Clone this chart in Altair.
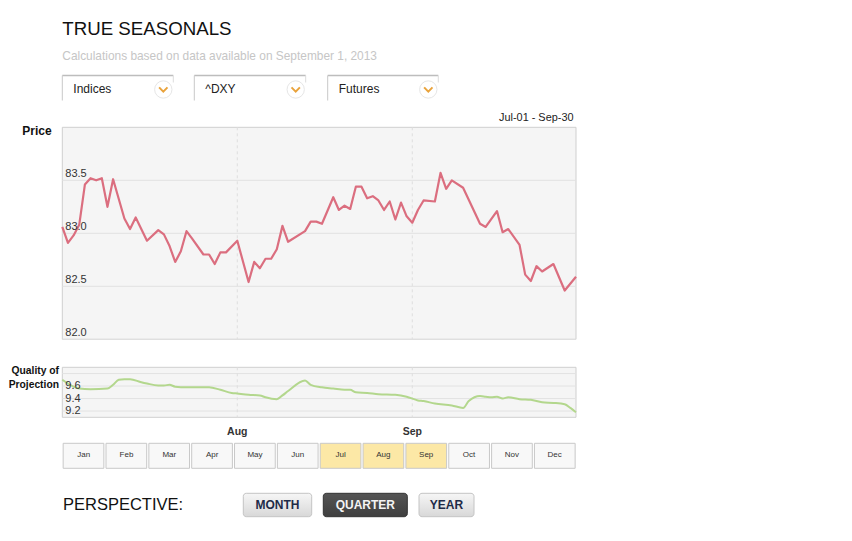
import altair as alt
import pandas as pd

FONT = "Liberation Sans, Arial, Helvetica, sans-serif"

# ---------------- data ----------------
TITLE = "TRUE SEASONALS"
SUBTITLE = "Calculations based on data available on September 1, 2013"
DROPDOWNS = ["Indices", "^DXY", "Futures"]
RANGE_LABEL = "Jul-01 - Sep-30"
START = "2013-07-01"
END = "2013-09-30"

price_dates = [
    "2013-07-01", "2013-07-02", "2013-07-03", "2013-07-04", "2013-07-05", "2013-07-06",
    "2013-07-07", "2013-07-08", "2013-07-09", "2013-07-10", "2013-07-12", "2013-07-13",
    "2013-07-14", "2013-07-16", "2013-07-18", "2013-07-19", "2013-07-20", "2013-07-21",
    "2013-07-22", "2013-07-23", "2013-07-24", "2013-07-26", "2013-07-27", "2013-07-28",
    "2013-07-29", "2013-07-30", "2013-08-01", "2013-08-03", "2013-08-04", "2013-08-05",
    "2013-08-06", "2013-08-07", "2013-08-08", "2013-08-09", "2013-08-10", "2013-08-13",
    "2013-08-14", "2013-08-15", "2013-08-16", "2013-08-18", "2013-08-19", "2013-08-20",
    "2013-08-21", "2013-08-22", "2013-08-23", "2013-08-24", "2013-08-25", "2013-08-26",
    "2013-08-27", "2013-08-28", "2013-08-29", "2013-08-30", "2013-08-31", "2013-09-01",
    "2013-09-02", "2013-09-03", "2013-09-05", "2013-09-06", "2013-09-07", "2013-09-08",
    "2013-09-10", "2013-09-13", "2013-09-14", "2013-09-16", "2013-09-17", "2013-09-18",
    "2013-09-20", "2013-09-21", "2013-09-22", "2013-09-23", "2013-09-24", "2013-09-26",
    "2013-09-28", "2013-09-30",
]
price_values = [
    83.06, 82.91, 82.98, 83.08, 83.46, 83.52,
    83.50, 83.52, 83.25, 83.51, 83.14, 83.04,
    83.15, 82.93, 83.03, 82.99, 82.88, 82.73,
    82.83, 83.02, 82.95, 82.80, 82.80, 82.71,
    82.82, 82.82, 82.93, 82.54, 82.73, 82.67,
    82.76, 82.76, 82.85, 83.07, 82.92, 83.02,
    83.11, 83.11, 83.09, 83.34, 83.22, 83.26,
    83.23, 83.44, 83.44, 83.33, 83.35, 83.31,
    83.22, 83.30, 83.13, 83.29, 83.16, 83.10,
    83.22, 83.31, 83.30, 83.57, 83.42, 83.50,
    83.43, 83.09, 83.06, 83.21, 83.01, 83.04,
    82.89, 82.61, 82.55, 82.69, 82.64, 82.71,
    82.46, 82.59,
]

quality_dates = [
    "2013-07-01", "2013-07-04", "2013-07-06", "2013-07-09", "2013-07-10", "2013-07-11",
    "2013-07-12", "2013-07-13", "2013-07-15", "2013-07-16", "2013-07-18", "2013-07-19",
    "2013-07-20", "2013-07-21", "2013-07-23", "2013-07-27", "2013-07-29", "2013-07-31",
    "2013-08-01", "2013-08-03", "2013-08-05", "2013-08-06", "2013-08-08", "2013-08-09",
    "2013-08-10", "2013-08-13", "2013-08-14", "2013-08-16", "2013-08-18", "2013-08-20",
    "2013-08-21", "2013-08-22", "2013-08-24", "2013-08-26", "2013-08-29", "2013-08-31",
    "2013-09-02", "2013-09-03", "2013-09-05", "2013-09-08", "2013-09-10", "2013-09-11",
    "2013-09-13", "2013-09-14", "2013-09-15", "2013-09-16", "2013-09-17", "2013-09-18",
    "2013-09-20", "2013-09-22", "2013-09-24", "2013-09-26", "2013-09-28", "2013-09-29",
    "2013-09-30",
]
quality_values = [
    9.70, 9.56, 9.55, 9.56, 9.62, 9.70,
    9.71, 9.71, 9.66, 9.64, 9.61, 9.61,
    9.62, 9.59, 9.58, 9.58, 9.54, 9.49,
    9.48, 9.46, 9.45, 9.42, 9.39, 9.45,
    9.52, 9.69, 9.62, 9.58, 9.56, 9.54,
    9.54, 9.50, 9.49, 9.47, 9.46, 9.43,
    9.37, 9.36, 9.32, 9.29, 9.25, 9.36,
    9.44, 9.43, 9.42, 9.43, 9.40, 9.42,
    9.39, 9.38, 9.34, 9.33, 9.31, 9.25,
    9.18,
]

price_ticks = [82.0, 82.5, 83.0, 83.5]
quality_grid = [9.2, 9.4, 9.6, 9.8]
quality_ticks = [9.2, 9.4, 9.6]
month_starts = ["2013-08-01", "2013-09-01"]
month_start_labels = ["Aug", "Sep"]

MONTHS = ["Jan", "Feb", "Mar", "Apr", "May", "Jun", "Jul", "Aug", "Sep", "Oct", "Nov", "Dec"]
SELECTED_MONTHS = ["Jul", "Aug", "Sep"]
PERSPECTIVE = "PERSPECTIVE:"
BUTTONS = ["MONTH", "QUARTER", "YEAR"]
SELECTED_BUTTON = "QUARTER"

# ---------------- layout (pixels inside the view) ----------------
W, H = 836, 525
PL, PR = 54.3, 568.0          # plot left / right
P_TOP, P_BOT = 119.3, 331.3   # price panel
Q_TOP, Q_BOT = 359.3, 409.3   # quality panel
NAV_TOP, NAV_BOT = 435.3, 460.3
DD_LEFT = [54.3, 186.3, 319.7]
DD_RIGHT = [165.3, 297.7, 430.3]
DD_TOP, DD_BOT = 67.5, 92.5
BTN_LEFT = [235.3, 315.3, 411.0]
BTN_RIGHT = [303.7, 399.3, 466.0]
BTN_TOP, BTN_BOT = 485.3, 508.7

PRICE_COLOR = "#db6e7f"
QUAL_COLOR = "#b3d78d"
FRAME_FILL = "#f5f5f5"
FRAME_STROKE = "#cfcfcf"
GRID = "#e2e2e2"

start = pd.Timestamp(START)
ndays = (pd.Timestamp(END) - start).days


def day_index(dates):
    return [(pd.Timestamp(d) - start).days for d in dates]


X_DAY = alt.Scale(domain=[0, ndays], range=[PL, PR], nice=False, zero=False)
Y_PRICE = alt.Scale(domain=[82.0, 84.0], range=[P_BOT, P_TOP], nice=False, zero=False)
Y_QUAL = alt.Scale(domain=[9.1, 9.9], range=[Q_BOT, Q_TOP], nice=False, zero=False)


def one(**kw):
    return pd.DataFrame({k: [v] for k, v in kw.items()})


def text(s, x, y, size, color="#222", weight="normal", align="left", baseline="alphabetic"):
    return alt.Chart(one(t=s)).mark_text(
        align=align, baseline=baseline, fontSize=size, fontWeight=weight,
        color=color, font=FONT
    ).encode(x=alt.value(x), y=alt.value(y), text="t:N")


layers = []

# ---- header ----
layers.append(text(TITLE, 54.3, 27, 18.7, color="#111"))
layers.append(text(SUBTITLE, 54.3, 51.5, 11.9, color="#c6c6c6"))

# ---- dropdowns ----
dd = pd.DataFrame({"label": DROPDOWNS, "l": DD_LEFT, "r": DD_RIGHT})
dd["tx"] = dd["l"] + 11
dd["cx"] = dd["r"] - 10
XI = lambda f: alt.X(f, scale=None, axis=None)
layers.append(alt.Chart(dd).mark_rect(fill="white").encode(
    x=XI("l:Q"), x2="r:Q", y=alt.value(DD_TOP), y2=alt.value(DD_BOT)))
layers.append(alt.Chart(dd).mark_rule(color="#bdbdbd", strokeWidth=1.5).encode(
    x=XI("l:Q"), x2="r:Q", y=alt.value(DD_TOP)))
layers.append(alt.Chart(dd).mark_rule(color="#c8c8c8", strokeWidth=1).encode(
    x=XI("l:Q"), y=alt.value(DD_TOP), y2=alt.value(DD_BOT)))
layers.append(alt.Chart(dd).mark_rule(color="#dcdcdc", strokeWidth=1).encode(
    x=XI("r:Q"), y=alt.value(DD_TOP), y2=alt.value(DD_TOP + 7)))
layers.append(alt.Chart(dd).mark_text(align="left", baseline="middle", fontSize=12,
                                      color="#222", font=FONT).encode(
    x=XI("tx:Q"), y=alt.value(80.5), text="label:N"))
layers.append(alt.Chart(dd).mark_point(shape="circle", filled=True, fill="white",
                                       stroke="#e6e6e6", strokeWidth=1, size=300, opacity=1).encode(
    x=XI("cx:Q"), y=alt.value(81.5)))
layers.append(alt.Chart(dd).mark_point(shape="M-1,-0.5L0,0.5L1,-0.5", filled=False,
                                       color="#e9a33c", strokeWidth=2, size=70, opacity=1).encode(
    x=XI("cx:Q"), y=alt.value(81.5)))

# ---- price panel ----
frame_p = pd.DataFrame({"a": [0], "b": [ndays], "lo": [82.0], "hi": [84.0]})
layers.append(alt.Chart(frame_p).mark_rect(fill=FRAME_FILL, stroke=FRAME_STROKE, strokeWidth=1).encode(
    x=alt.X("a:Q", scale=X_DAY, axis=None), x2="b:Q",
    y=alt.Y("lo:Q", scale=Y_PRICE, axis=None), y2="hi:Q"))
pt = pd.DataFrame({"v": price_ticks})
pt["lab"] = pt["v"].map(lambda v: f"{v:.1f}")
layers.append(alt.Chart(pt).mark_rule(color=GRID, strokeWidth=1).encode(
    y=alt.Y("v:Q", scale=Y_PRICE, axis=None), x=alt.value(PL), x2=alt.value(PR)))
ms = pd.DataFrame({"d": day_index(month_starts), "lab": month_start_labels})
layers.append(alt.Chart(ms).mark_rule(color="#dedede", strokeWidth=1, strokeDash=[3, 3]).encode(
    x=alt.X("d:Q", scale=X_DAY, axis=None), y=alt.value(P_TOP), y2=alt.value(P_BOT)))
price_df = pd.DataFrame({"date": price_dates, "price": price_values})
price_df["d"] = day_index(price_dates)
layers.append(alt.Chart(price_df).mark_line(color=PRICE_COLOR, strokeWidth=2.2,
                                            strokeJoin="round").encode(
    x=alt.X("d:Q", scale=X_DAY, axis=None),
    y=alt.Y("price:Q", scale=Y_PRICE, axis=None)))
layers.append(alt.Chart(pt).mark_text(align="left", baseline="alphabetic", fontSize=11,
                                      color="#333", font=FONT, dy=-3).encode(
    x=alt.value(PL + 3), y=alt.Y("v:Q", scale=Y_PRICE, axis=None), text="lab:N"))
layers.append(text("Price", 43.7, 127, 12, color="#111", weight="bold", align="right"))
layers.append(text(RANGE_LABEL, 565.5, 112.5, 10.9, color="#222", align="right"))

# ---- quality panel ----
frame_q = pd.DataFrame({"a": [0], "b": [ndays], "lo": [9.1], "hi": [9.9]})
layers.append(alt.Chart(frame_q).mark_rect(fill=FRAME_FILL, stroke=FRAME_STROKE, strokeWidth=1).encode(
    x=alt.X("a:Q", scale=X_DAY, axis=None), x2="b:Q",
    y=alt.Y("lo:Q", scale=Y_QUAL, axis=None), y2="hi:Q"))
qg = pd.DataFrame({"v": quality_grid})
layers.append(alt.Chart(qg).mark_rule(color=GRID, strokeWidth=1).encode(
    y=alt.Y("v:Q", scale=Y_QUAL, axis=None), x=alt.value(PL), x2=alt.value(PR)))
layers.append(alt.Chart(ms).mark_rule(color="#dedede", strokeWidth=1, strokeDash=[3, 3]).encode(
    x=alt.X("d:Q", scale=X_DAY, axis=None), y=alt.value(Q_TOP), y2=alt.value(Q_BOT)))
q_df = pd.DataFrame({"date": quality_dates, "q": quality_values})
q_df["d"] = day_index(quality_dates)
layers.append(alt.Chart(q_df).mark_line(color=QUAL_COLOR, strokeWidth=2, interpolate="monotone").encode(
    x=alt.X("d:Q", scale=X_DAY, axis=None),
    y=alt.Y("q:Q", scale=Y_QUAL, axis=None)))
qt = pd.DataFrame({"v": quality_ticks})
qt["lab"] = qt["v"].map(lambda v: f"{v:.1f}")
layers.append(alt.Chart(qt).mark_text(align="left", baseline="middle", fontSize=11,
                                      color="#333", font=FONT).encode(
    x=alt.value(PL + 3), y=alt.Y("v:Q", scale=Y_QUAL, axis=None), text="lab:N"))
layers.append(text("Quality of", 51, 366.3, 10.3, color="#111", weight="bold", align="right"))
layers.append(text("Projection", 51, 379.6, 10.3, color="#111", weight="bold", align="right"))

# x labels under the quality panel
layers.append(alt.Chart(ms).mark_text(align="center", baseline="alphabetic", fontSize=10.5,
                                      fontWeight="bold", color="#333", font=FONT).encode(
    x=alt.X("d:Q", scale=X_DAY, axis=None), y=alt.value(427), text="lab:N"))

# ---- month navigator ----
nav = pd.DataFrame({"m": MONTHS})
nav["sel"] = nav["m"].isin(SELECTED_MONTHS)
X_NAV = alt.Scale(domain=MONTHS, range=[PL, PR], paddingInner=0.05, paddingOuter=0.02)
layers.append(alt.Chart(nav).mark_rect(stroke="#c8c8c8", strokeWidth=1).encode(
    x=alt.X("m:N", scale=X_NAV, axis=None),
    y=alt.value(NAV_TOP), y2=alt.value(NAV_BOT),
    fill=alt.condition("datum.sel", alt.value("#fce8a6"), alt.value("#f8f8f8"))))
layers.append(alt.Chart(nav).mark_text(align="center", baseline="middle", fontSize=8,
                                      color="#333", font=FONT).encode(
    x=alt.X("m:N", scale=X_NAV, axis=None), y=alt.value(447.3), text="m:N"))

# ---- perspective buttons ----
layers.append(text(PERSPECTIVE, 55, 502.2, 16.5, color="#111"))
btn = pd.DataFrame({"label": BUTTONS, "l": BTN_LEFT, "r": BTN_RIGHT})
btn["c"] = (btn["l"] + btn["r"]) / 2
btn["sel"] = btn["label"] == SELECTED_BUTTON
light = alt.LinearGradient(gradient="linear", x1=0, x2=0, y1=0, y2=1,
                           stops=[alt.GradientStop(color="#f6f6f6", offset=0),
                                  alt.GradientStop(color="#d8d8d8", offset=1)])
dark = alt.LinearGradient(gradient="linear", x1=0, x2=0, y1=0, y2=1,
                          stops=[alt.GradientStop(color="#555555", offset=0),
                                 alt.GradientStop(color="#3f3f3f", offset=1)])
layers.append(alt.Chart(btn).transform_filter("!datum.sel").mark_rect(
    fill=light, stroke="#c4c4c4", strokeWidth=1, cornerRadius=3).encode(
    x=XI("l:Q"), x2="r:Q", y=alt.value(BTN_TOP), y2=alt.value(BTN_BOT)))
layers.append(alt.Chart(btn).transform_filter("datum.sel").mark_rect(
    fill=dark, stroke="#333333", strokeWidth=1, cornerRadius=3).encode(
    x=XI("l:Q"), x2="r:Q", y=alt.value(BTN_TOP), y2=alt.value(BTN_BOT)))
layers.append(alt.Chart(btn).mark_text(align="center", baseline="middle", fontSize=12,
                                       fontWeight="bold", font=FONT).encode(
    x=XI("c:Q"), y=alt.value(496.8), text="label:N",
    color=alt.condition("datum.sel", alt.value("#f4f4f4"), alt.value("#1e2b48"))))

chart = alt.layer(*layers).resolve_scale(
    x="independent", y="independent", color="independent", fill="independent"
).properties(
    width=W, height=H, padding=0, autosize=alt.AutoSizeParams(type="none")
).configure_view(stroke=None)

chart.save("out.html", embed_options={"renderer": "svg", "actions": False})
